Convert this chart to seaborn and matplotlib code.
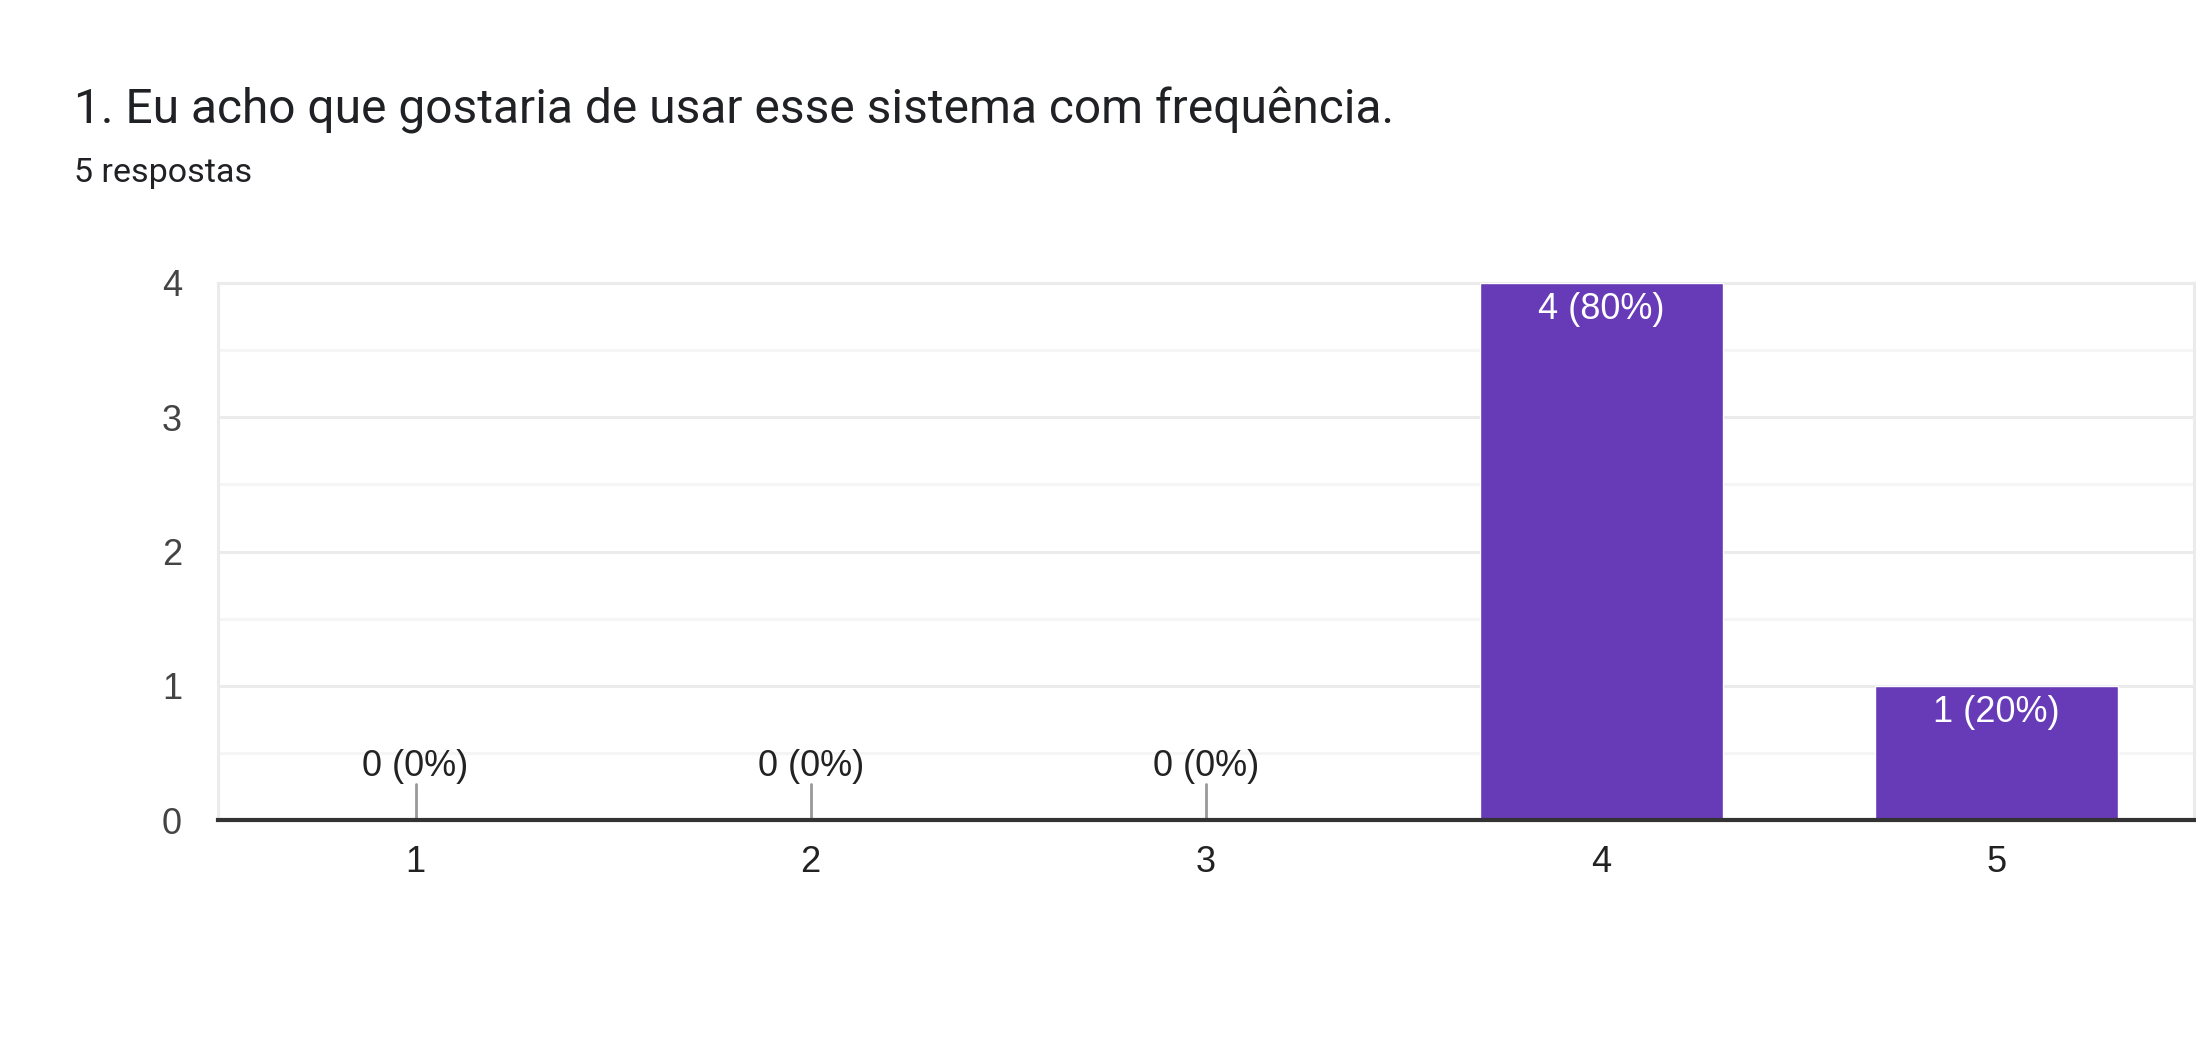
import pandas as pd
import matplotlib.pyplot as plt
import seaborn as sns
from matplotlib.ticker import MultipleLocator

title = "1. Eu acho que gostaria de usar esse sistema com frequência."
subtitle = "5 respostas"
categories = ["1", "2", "3", "4", "5"]
counts = [0, 0, 0, 4, 1]
percents = [0, 0, 0, 80, 20]

purple = "#673AB7"
chart_font = ['Liberation Sans', 'DejaVu Sans']

sns.set_theme(style="white")
plt.rcParams['font.family'] = ['Roboto', 'DejaVu Sans']

df = pd.DataFrame({'resposta': categories, 'n': counts})

fig = plt.figure(figsize=(21.96, 10.44), dpi=100)
ax = fig.add_axes([218 / 2196, 1 - 820 / 1044, 1 - 218 / 2196 - 0.001, (820 - 283) / 1044])

sns.barplot(data=df, x='resposta', y='n', color=purple, width=0.615,
            saturation=1, ax=ax, zorder=3)

ax.set_ylim(0, 4)
ax.set_xlim(-0.5, 4.5)
ax.yaxis.set_major_locator(MultipleLocator(1))
ax.yaxis.set_minor_locator(MultipleLocator(0.5))
ax.grid(which='major', axis='y', color='#ebebeb', linewidth=2.2, zorder=0)
ax.grid(which='minor', axis='y', color='#f5f5f5', linewidth=2.2, zorder=0)
ax.set_axisbelow(True)

for side in ['top', 'left', 'right']:
    ax.spines[side].set_color('#ebebeb')
    ax.spines[side].set_linewidth(2.2)
ax.spines['bottom'].set_color('#333333')
ax.spines['bottom'].set_linewidth(3)
ax.spines['bottom'].set_zorder(5)

ax.tick_params(axis='y', length=0, pad=26, labelsize=26, labelcolor='#444444')
ax.tick_params(axis='x', length=0, pad=18, labelsize=26, labelcolor='#222222')
for lab in ax.get_xticklabels() + ax.get_yticklabels():
    lab.set_family(chart_font)
ax.set_xlabel("")
ax.set_ylabel("")

# rótulos das barras
for i, (n, p) in enumerate(zip(counts, percents)):
    label = f"{n} ({p}%)"
    if n == 0:
        ax.plot([i, i], [0, 0.27], color='#999999', linewidth=2, zorder=4)
        ax.text(i, 0.40, label, ha='center', va='center', fontsize=26,
                color='#222222', family=chart_font)
    else:
        ax.text(i, n - 0.2, label, ha='center', va='center', fontsize=26,
                color='white', zorder=6, family=chart_font)

fig.text(74 / 2196, 1 - 123 / 1044, title, fontsize=34.5, color='#202124', va='baseline')
fig.text(74 / 2196, 1 - 182 / 1044, subtitle, fontsize=24.5, color='#202124', va='baseline')

fig.savefig("out.png", dpi=100)
